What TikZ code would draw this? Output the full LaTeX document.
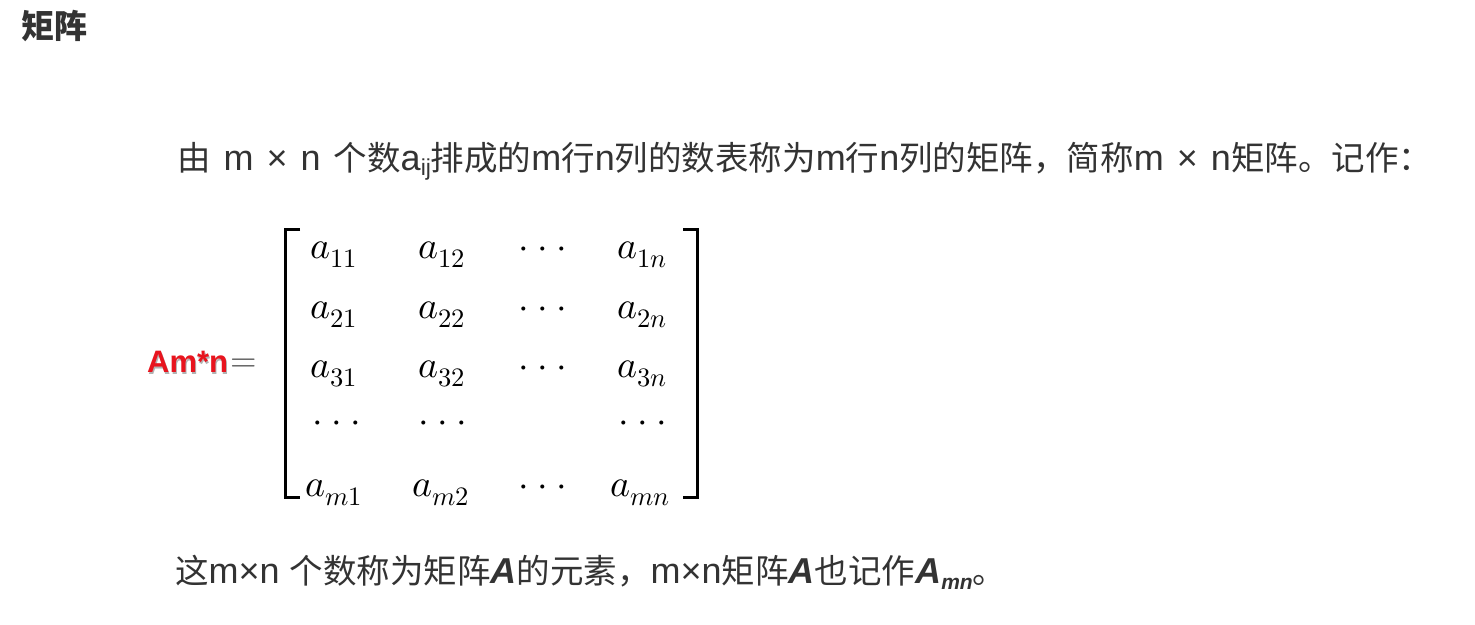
\documentclass[tikz,border=0pt]{standalone}
\usepackage{unicode-math}
\setmainfont{Liberation Sans}
\setmathfont{Latin Modern Math}
\newfontfamily\cjk{Noto Sans CJK SC}
\definecolor{tcol}{HTML}{333333}
\definecolor{redtxt}{HTML}{E8141E}
\definecolor{eqcol}{HTML}{555555}
\newcommand{\cj}[1]{{\fontsize{33.5}{40}\selectfont\cjk #1}}
\newcommand{\wsp}{\hspace{13pt}}
\newcommand{\subij}{\raisebox{-5pt}{\fontsize{23}{23}\selectfont ij}}
\newcommand{\Abi}{{\bfseries\itshape A}}
\newcommand{\cdd}{\mathord{\cdot}\mathbin{\cdot}\mathord{\cdot}}
\begin{document}
\begin{tikzpicture}[x=1pt,y=-1pt,
  txt/.style={anchor=base west, inner sep=0pt, font=\fontsize{36}{42}\selectfont, text=tcol},
  ent/.style={anchor=base, inner sep=0pt, font=\fontsize{38}{44}\selectfont, text=black},
  brk/.style={line width=3pt, black}]
\useasboundingbox (0,0) rectangle (1475,624);
% title
\node[anchor=base west, inner sep=0pt, font=\fontsize{33}{38}\selectfont\cjk\bfseries, text=tcol] (title) at (21,38) {矩阵};
% line 1
\node[txt] (line1) at (177,170) {\cj{由}\wsp m\wsp ×\wsp n\wsp\cj{个数}a\subij\cj{排成的}m\cj{行}n\cj{列的数表称为}m\cj{行}n\cj{列的矩阵，简称}m\wsp ×\wsp n\cj{矩阵。记作：}};
% left side
\node[anchor=base west, inner sep=0pt, font=\fontsize{31}{35}\selectfont\bfseries, text=gray!60] (lhsshadow) at (148,374) {Am*n};
\node[anchor=base west, inner sep=0pt, font=\fontsize{31}{35}\selectfont\bfseries, text=redtxt] (lhs) at (147,372) {Am*n};
\node[anchor=base west, inner sep=0pt, font=\fontsize{34}{40}\selectfont, text=eqcol] (eq) at (230,371) {$=$};
% brackets
\draw[brk] (300,229) -- (285,229) -- (285,497) -- (300,497);
\draw[brk] (683,229) -- (697,229) -- (697,497) -- (683,497);
% entries
\node[ent] (e11) at (334,258) {$a_{11}$};
\node[ent] (e12) at (442,258) {$a_{12}$};
\node[ent] (e13) at (543,258) {$\cdd$};
\node[ent] (e14) at (642,258) {$a_{1n}$};
\node[ent] (e21) at (334,318) {$a_{21}$};
\node[ent] (e22) at (442,318) {$a_{22}$};
\node[ent] (e23) at (543,318) {$\cdd$};
\node[ent] (e24) at (642,318) {$a_{2n}$};
\node[ent] (e31) at (334,377) {$a_{31}$};
\node[ent] (e32) at (442,377) {$a_{32}$};
\node[ent] (e33) at (543,377) {$\cdd$};
\node[ent] (e34) at (642,377) {$a_{3n}$};
\node[ent] (e41) at (337,432) {$\cdd$};
\node[ent] (e42) at (443,432) {$\cdd$};
\node[ent] (e44) at (643,432) {$\cdd$};
\node[ent] (e51) at (334,496) {$a_{m1}$};
\node[ent] (e52) at (441,496) {$a_{m2}$};
\node[ent] (e53) at (543,496) {$\cdd$};
\node[ent] (e54) at (640,496) {$a_{mn}$};
% line 3
\node[txt] (line3) at (175,583) {\cj{这}m×n \cj{个数称为矩阵}\Abi\cj{的元素，}m×n\cj{矩阵}\Abi\cj{也记作}\Abi\raisebox{-6pt}{\fontsize{21}{21}\selectfont\bfseries\itshape mn}\cj{。}};
\end{tikzpicture}
\end{document}
